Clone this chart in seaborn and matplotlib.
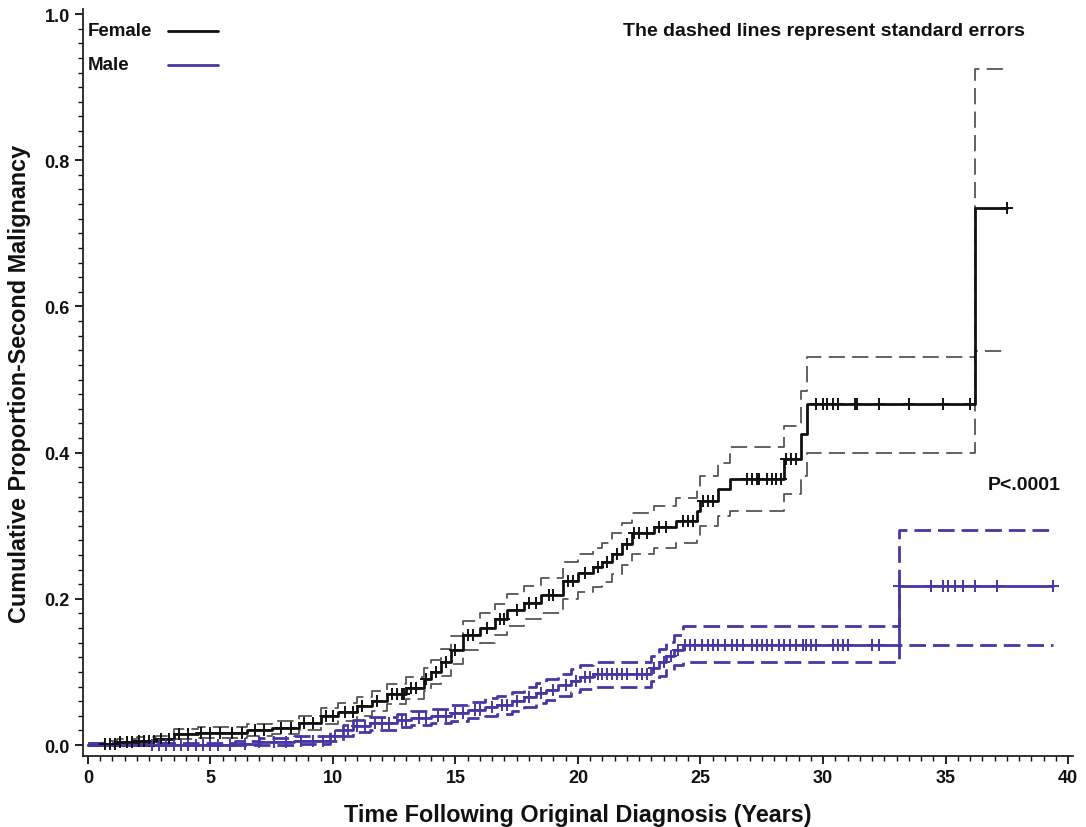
import numpy as np
import pandas as pd
import matplotlib
matplotlib.use("Agg")
import matplotlib.pyplot as plt
import seaborn as sns
from matplotlib.ticker import MultipleLocator, FormatStrFormatter

sns.set_style("ticks")
plt.rcParams["font.family"] = ["Liberation Sans", "DejaVu Sans"]
plt.rcParams["font.weight"] = "bold"

# ---- data (step functions, post-step) ----
female_t = [0.0, 0.6, 1.2, 2.0, 2.8, 3.5, 4.5, 6.5, 7.5, 8.6, 9.5, 10.2, 11.0, 11.6,
            12.2, 13.0, 13.7, 14.0, 14.4, 14.8, 15.3, 16.0, 16.6, 17.1, 17.8, 18.5,
            19.4, 20.0, 20.6, 21.0, 21.4, 21.8, 22.2, 23.1, 24.0, 24.85, 25.0, 25.7,
            26.2, 28.4, 29.1, 29.35, 36.2, 37.5]
female_y = [0.000, 0.002, 0.004, 0.006, 0.008, 0.015, 0.017, 0.021, 0.024, 0.030,
            0.040, 0.045, 0.053, 0.060, 0.070, 0.078, 0.090, 0.100, 0.113, 0.130,
            0.150, 0.160, 0.172, 0.185, 0.195, 0.205, 0.225, 0.235, 0.243, 0.250,
            0.262, 0.275, 0.290, 0.298, 0.307, 0.320, 0.334, 0.350, 0.364, 0.391,
            0.425, 0.466, 0.735, 0.735]
female_hi = [0.003, 0.005, 0.008, 0.011, 0.013, 0.022, 0.025, 0.029, 0.033, 0.040,
             0.051, 0.057, 0.066, 0.074, 0.084, 0.093, 0.106, 0.117, 0.131, 0.149,
             0.170, 0.181, 0.193, 0.207, 0.218, 0.229, 0.250, 0.261, 0.270, 0.277,
             0.290, 0.304, 0.318, 0.327, 0.338, 0.352, 0.368, 0.386, 0.408, 0.436,
             0.485, 0.531, 0.925, 0.925]
female_lo = [0.000, 0.000, 0.001, 0.002, 0.003, 0.008, 0.010, 0.013, 0.015, 0.020,
             0.029, 0.033, 0.040, 0.046, 0.056, 0.063, 0.074, 0.083, 0.095, 0.111,
             0.130, 0.139, 0.151, 0.163, 0.172, 0.181, 0.200, 0.209, 0.216, 0.223,
             0.234, 0.246, 0.262, 0.269, 0.276, 0.288, 0.300, 0.314, 0.320, 0.343,
             0.368, 0.400, 0.539, 0.539]
female_censor = [0.7, 0.9, 1.1, 1.3, 1.6, 1.8, 2.1, 2.3, 2.5, 2.7, 3.0, 3.3, 3.7, 4.1,
                 4.6, 5.0, 5.4, 5.9, 6.3, 6.8, 7.2, 7.9, 8.3, 8.8, 9.2, 9.7, 10.0, 10.5,
                 10.8, 11.2, 11.8, 12.4, 12.6, 12.8, 12.9, 13.2, 13.4, 13.8, 14.2, 14.6,
                 15.0, 15.5, 15.7, 16.3, 16.8, 17.0, 17.5, 18.0, 18.3, 18.8, 19.0, 19.6,
                 19.8, 20.3, 20.8, 21.2, 21.6, 22.0, 22.3, 22.5, 22.8, 23.3, 23.6, 24.3,
                 24.5, 24.7, 25.1, 25.3, 25.5, 26.9, 27.1, 27.3, 27.4, 27.7, 27.9, 28.1,
                 28.3, 28.5, 28.7, 28.9, 29.7, 30.0, 30.15, 30.4, 30.6, 31.3, 31.4, 32.3,
                 33.5, 34.9, 36.0, 37.5]

male_t = [0.0, 6.0, 7.0, 8.4, 9.9, 10.4, 10.8, 11.5, 12.6, 13.2, 14.0, 14.8, 15.5,
          16.2, 16.7, 17.3, 17.8, 18.3, 18.7, 19.2, 19.7, 20.1, 20.6, 23.0, 23.3,
          23.6, 23.9, 24.3, 33.1, 39.4]
male_y = [0.000, 0.002, 0.004, 0.006, 0.013, 0.020, 0.026, 0.030, 0.034, 0.037,
          0.040, 0.044, 0.048, 0.052, 0.055, 0.060, 0.066, 0.071, 0.076, 0.082,
          0.088, 0.093, 0.097, 0.105, 0.113, 0.122, 0.130, 0.137, 0.218, 0.218]
male_hi = [0.003, 0.006, 0.009, 0.012, 0.020, 0.028, 0.034, 0.039, 0.043, 0.047,
           0.050, 0.055, 0.059, 0.064, 0.067, 0.073, 0.080, 0.085, 0.091, 0.097,
           0.104, 0.109, 0.113, 0.122, 0.131, 0.141, 0.150, 0.163, 0.294, 0.294]
male_lo = [0.000, 0.000, 0.000, 0.001, 0.006, 0.012, 0.018, 0.021, 0.025, 0.027,
           0.030, 0.033, 0.037, 0.040, 0.043, 0.047, 0.052, 0.057, 0.061, 0.067,
           0.072, 0.077, 0.080, 0.088, 0.095, 0.103, 0.110, 0.114, 0.137, 0.137]
male_censor = [2.6, 2.9, 3.2, 3.5, 3.8, 4.1, 4.4, 4.7, 5.0, 5.3, 5.8, 6.4, 7.0, 7.6,
               8.1, 8.7, 9.2, 9.6, 10.1, 10.6, 11.0, 11.3, 11.7, 12.0, 12.3, 12.8,
               13.0, 13.5, 13.8, 14.3, 14.6, 15.0, 15.3, 15.8, 16.0, 16.5, 16.9, 17.1,
               17.5, 18.0, 18.5, 19.0, 19.5, 19.9, 20.3, 20.5, 20.8, 21.0, 21.2, 21.4,
               21.6, 21.8, 22.0, 22.4, 22.6, 22.8, 23.1, 23.5, 23.8, 24.1, 24.37,
               24.57, 24.78, 25.05, 25.32, 25.52, 25.72, 26.0, 26.27, 26.48, 26.75,
               27.09, 27.29, 27.5, 27.7, 27.9, 28.2, 28.4, 28.65, 28.9, 29.2, 29.3,
               29.5, 29.7, 30.4, 30.6, 30.8, 31.0, 32.0, 32.3, 33.1, 34.4, 34.9, 35.1,
               35.4, 35.7, 36.2, 37.1, 39.4]

group_names = ["Female", "Male"]

FEMALE_C = "#111111"
FEMALE_SE = "#555555"
MALE_C = "#4a35a6"


def step_value(t, y, c):
    idx = np.searchsorted(t, c, side="right") - 1
    return np.asarray(y)[idx]


fig, ax = plt.subplots(figsize=(10.86, 8.28), dpi=100)
fig.subplots_adjust(left=0.0764, right=0.988, bottom=0.0857, top=0.988)

groups = [
    (female_t, female_y, female_hi, female_lo, female_censor,
     FEMALE_C, FEMALE_SE, 1.3, (9, 4)),
    (male_t, male_y, male_hi, male_lo, male_censor,
     MALE_C, MALE_C, 2.0, (6, 2.5)),
]

for name, (t, y, hi, lo, cens, col, secol, selw, dash) in zip(group_names, groups):
    df = pd.DataFrame({"t": t, "y": y, "hi": hi, "lo": lo})
    for band in ("hi", "lo"):
        sns.lineplot(data=df, x="t", y=band, ax=ax, color=secol, lw=selw,
                     drawstyle="steps-post", estimator=None,
                     linestyle=(0, dash), zorder=2)
    sns.lineplot(data=df, x="t", y="y", ax=ax, color=col, lw=2.0,
                 drawstyle="steps-post", estimator=None, zorder=3)
    cdf = pd.DataFrame({"t": cens, "y": step_value(t, y, cens)})
    sns.scatterplot(data=cdf, x="t", y="y", ax=ax, marker="+", s=70,
                    color=col, linewidth=1.4, zorder=4, legend=False)

ax.set_xlim(-0.2, 40.2)
ax.set_ylim(-0.015, 1.007)
ax.xaxis.set_major_locator(MultipleLocator(5))
ax.xaxis.set_minor_locator(MultipleLocator(0.5))
ax.yaxis.set_major_locator(MultipleLocator(0.2))
ax.yaxis.set_minor_locator(MultipleLocator(0.02))
ax.yaxis.set_major_formatter(FormatStrFormatter("%.1f"))
ax.tick_params(axis="both", which="major", length=6, width=1.3, labelsize=13,
               direction="out", colors="#111111")
ax.tick_params(axis="both", which="minor", length=3.5, width=1.0,
               direction="out", colors="#111111")
sns.despine(ax=ax)
for sp in ("left", "bottom"):
    ax.spines[sp].set_linewidth(1.3)
    ax.spines[sp].set_color("#222222")

ax.set_xlabel("Time Following Original Diagnosis (Years)", fontsize=16.8,
              fontweight="bold", labelpad=12, color="#111111")
ax.set_ylabel("Cumulative Proportion-Second Malignancy", fontsize=16.8,
              fontweight="bold", labelpad=10, color="#111111")

ax.text(0.545, 0.9705, "The dashed lines represent standard errors",
        transform=ax.transAxes, fontsize=14, fontweight="bold",
        va="center", ha="left", color="#111111")
ax.text(0.914, 0.364, "P<.0001", transform=ax.transAxes, fontsize=14,
        fontweight="bold", va="center", ha="left", color="#111111")

# legend: label on the left, line sample on the right
for name, col, ypos in zip(group_names, [FEMALE_C, MALE_C], [0.9705, 0.925]):
    ax.text(0.005, ypos, name, transform=ax.transAxes, fontsize=13.5,
            fontweight="bold", va="center", ha="left", color="#111111")
    ax.plot([0.0859, 0.1364], [ypos, ypos], transform=ax.transAxes,
            color=col, lw=2.0, clip_on=False)

fig.savefig("out.png", dpi=100)
